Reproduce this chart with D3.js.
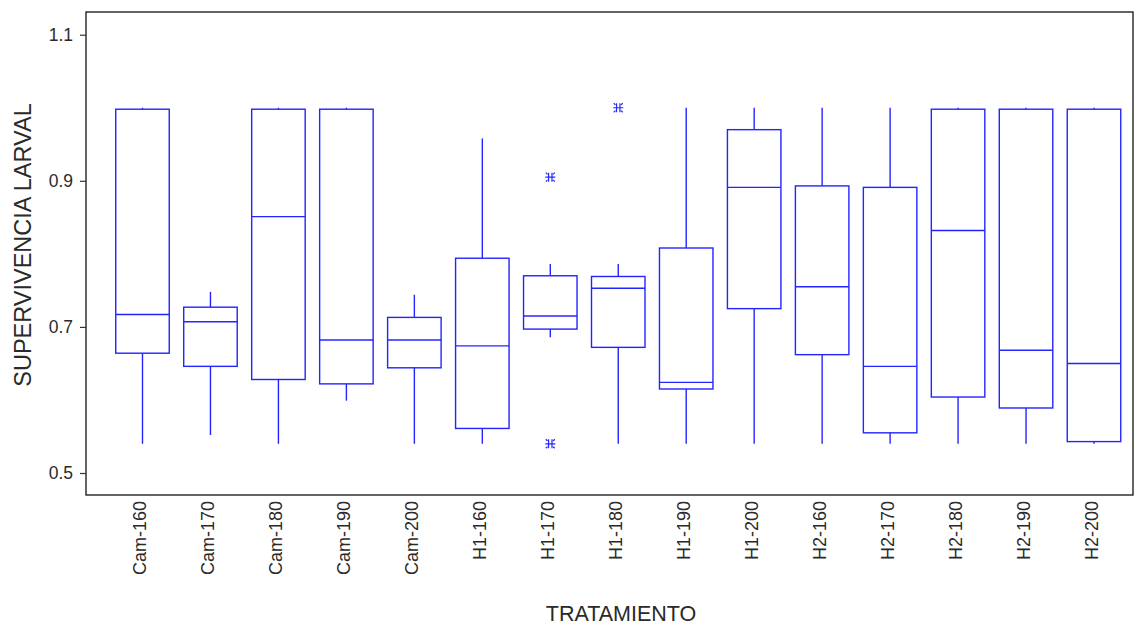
<!DOCTYPE html>
<html>
<head>
<meta charset="utf-8">
<script src="https://cdn.jsdelivr.net/npm/d3@7"></script>
<style>
  html, body { margin: 0; padding: 0; background: #fff; }
  svg { display: block; font-family: "Liberation Sans", Arial, sans-serif; }
</style>
</head>
<body>
<svg id="chart" width="1139" height="625"></svg>
<script>
// Treatments on the x axis
const categories = ["Cam-160", "Cam-170", "Cam-180", "Cam-190", "Cam-200",
                    "H1-160", "H1-170", "H1-180", "H1-190", "H1-200",
                    "H2-160", "H2-170", "H2-180", "H2-190", "H2-200"];

// Five-number summaries of larval survival per treatment
const whiskerLow  = [0.540, 0.552, 0.540, 0.599, 0.540, 0.540, 0.686, 0.540, 0.540, 0.540, 0.540, 0.540, 0.540, 0.540, 0.540];
const quartile1   = [0.664, 0.646, 0.628, 0.622, 0.644, 0.561, 0.697, 0.672, 0.615, 0.725, 0.662, 0.555, 0.604, 0.589, 0.543];
const medians     = [0.717, 0.707, 0.851, 0.682, 0.682, 0.674, 0.715, 0.753, 0.624, 0.891, 0.755, 0.646, 0.832, 0.668, 0.650];
const quartile3   = [0.998, 0.727, 0.998, 0.998, 0.713, 0.794, 0.770, 0.769, 0.808, 0.970, 0.893, 0.891, 0.998, 0.998, 0.998];
const whiskerHigh = [1.000, 0.748, 1.000, 1.000, 0.744, 0.958, 0.786, 0.786, 1.000, 1.000, 1.000, 1.000, 1.000, 1.000, 1.000];

// Points beyond the whiskers
const outlierCategory = ["H1-170", "H1-170", "H1-180"];
const outlierValue    = [0.905, 0.540, 1.000];

const yTicks = [0.5, 0.7, 0.9, 1.1];
const xTitle = "TRATAMIENTO";
const yTitle = "SUPERVIVENCIA LARVAL";

const svg = d3.select("#chart");
const frame = { left: 86, right: 1133, top: 12, bottom: 495 };
const blue = "#2424ff";
const textColor = "#2a2a2a";

const x = d3.scalePoint().domain(categories).range([142.5, 1094]);
const y = d3.scaleLinear().domain([0.5, 1.1]).range([473, 34.7]);
const boxWidth = 53.5;

// Plot frame
svg.append("rect")
  .attr("x", frame.left).attr("y", frame.top)
  .attr("width", frame.right - frame.left)
  .attr("height", frame.bottom - frame.top)
  .attr("fill", "none").attr("stroke", "#111").attr("stroke-width", 1.3);

// Y axis
const yAxis = svg.append("g")
  .attr("transform", `translate(${frame.left},0)`)
  .call(d3.axisLeft(y).tickValues(yTicks).tickSize(6).tickPadding(7).tickFormat(d3.format(".1f")));
yAxis.select(".domain").remove();
yAxis.selectAll(".tick line").attr("stroke", "#333").attr("stroke-width", 1.2);
yAxis.selectAll(".tick text").attr("font-size", 17.5).attr("fill", textColor)
  .attr("font-family", "'Liberation Sans', Arial, sans-serif");

// X axis labels (rotated)
const xAxis = svg.append("g")
  .attr("transform", `translate(0,${frame.bottom})`)
  .call(d3.axisBottom(x).tickSize(0).tickPadding(0));
xAxis.select(".domain").remove();
xAxis.selectAll(".tick text")
  .attr("font-size", 18).attr("fill", textColor)
  .attr("font-family", "'Liberation Sans', Arial, sans-serif")
  .attr("transform", "rotate(-90)")
  .attr("text-anchor", "end")
  .attr("x", -6).attr("y", -3).attr("dy", "0.35em");

// Boxes
const rows = categories.map((c, i) => ({
  c, lo: whiskerLow[i], q1: quartile1[i], med: medians[i], q3: quartile3[i], hi: whiskerHigh[i]
}));

const g = svg.append("g").attr("stroke", blue).attr("stroke-width", 1.4).attr("fill", "none");
const box = g.selectAll("g.box").data(rows).join("g").attr("class", "box");

box.append("line")
  .attr("x1", d => x(d.c)).attr("x2", d => x(d.c))
  .attr("y1", d => y(d.q3)).attr("y2", d => y(d.hi));
box.append("line")
  .attr("x1", d => x(d.c)).attr("x2", d => x(d.c))
  .attr("y1", d => y(d.q1)).attr("y2", d => y(d.lo));
box.append("rect")
  .attr("x", d => x(d.c) - boxWidth / 2)
  .attr("y", d => y(d.q3))
  .attr("width", boxWidth)
  .attr("height", d => y(d.q1) - y(d.q3))
  .attr("fill", "none");
box.append("line")
  .attr("x1", d => x(d.c) - boxWidth / 2).attr("x2", d => x(d.c) + boxWidth / 2)
  .attr("y1", d => y(d.med)).attr("y2", d => y(d.med));

// Outlier asterisks
const star = "M-5,0H5M-1.7,-4.5V4.5M1.7,-4.5V4.5M-4.5,-4.5L-2.8,-2.8M4.5,-4.5L2.8,-2.8M-4.5,4.5L-2.8,2.8M4.5,4.5L2.8,2.8";
svg.append("g").selectAll("path")
  .data(outlierCategory.map((c, i) => ({ c, v: outlierValue[i] })))
  .join("path")
  .attr("d", star)
  .attr("transform", d => `translate(${x(d.c)},${y(d.v)})`)
  .attr("fill", "none").attr("stroke", blue).attr("stroke-width", 1.2);

// Axis titles
svg.append("text")
  .attr("x", 621).attr("y", 621)
  .attr("text-anchor", "middle")
  .attr("font-size", 21.5).attr("fill", textColor)
  .text(xTitle);

svg.append("text")
  .attr("transform", "translate(31,245) rotate(-90)")
  .attr("text-anchor", "middle")
  .attr("font-size", 23.5).attr("fill", textColor)
  .text(yTitle);
</script>
</body>
</html>
